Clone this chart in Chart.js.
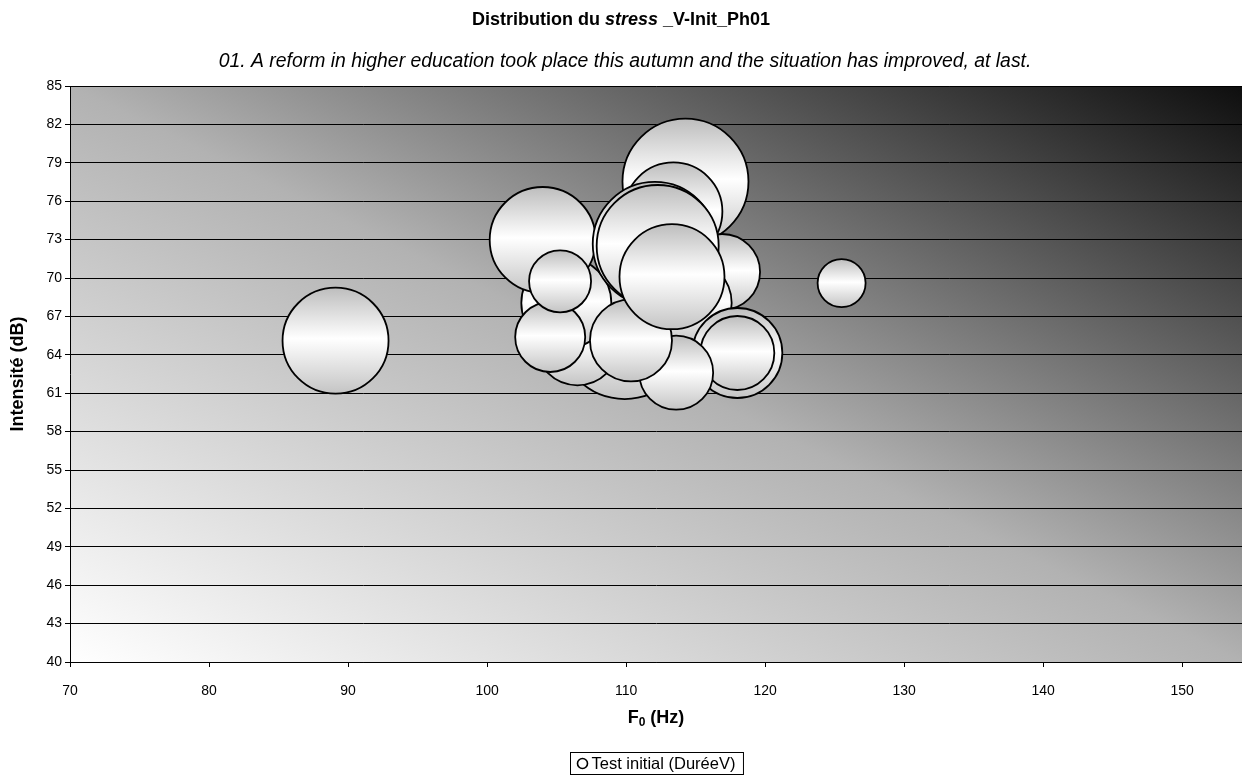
<!DOCTYPE html>
<html><head><meta charset="utf-8">
<style>html,body{margin:0;padding:0;background:#fff}#wrap{width:1242px;height:776px}</style>
<script src="https://cdn.jsdelivr.net/npm/chart.js@4/dist/chart.umd.min.js"></script>
</head><body><div id="wrap"><canvas id="c" width="1242" height="776"></canvas></div>
<script>
const FONT = '"Liberation Sans", Arial, sans-serif';
const titleParts = [['Distribution du ', 'bold'], ['stress', 'italic bold'], [' _V-Init_Ph01', 'bold']];
const subtitle = '01. A reform in higher education took place this autumn and the situation has improved, at last.';
const yTitle = 'Intensité (dB)';
const xTitleMain = 'F';
const xTitleSub = '0';
const xTitleRest = ' (Hz)';
const seriesName = 'Test initial (DuréeV)';

// F0 (Hz), intensity (dB) and bubble size (radius, px) per point
const f0Values = [89.1, 125.5, 109.9, 106.5, 105.7, 104.0, 104.54, 105.25, 114.27, 116.9, 113.4, 112.06, 112.27, 114.5, 118.0, 118.0, 113.6, 110.35, 113.3];
const intensityValues = [65.1, 69.6, 65.7, 64.9, 68.05, 72.97, 65.39, 69.74, 77.53, 70.47, 75.2, 72.66, 72.5, 68.05, 64.14, 64.14, 62.6, 65.12, 70.1];
const sizeValues = [53, 24, 66, 42, 45, 53, 35, 31, 63, 38, 49, 62, 61, 43, 45, 37, 37, 41, 52.5];

const xMin = 70, xMax = 154.3, xStep = 10;
const yMin = 40, yMax = 85, yStep = 3;

const points = f0Values.map((x, i) => ({x: x, y: intensityValues[i], r: sizeValues[i]}));

function bubbleFill(ctx) {
  if (ctx.type !== 'data') return '#ffffff';
  const chart = ctx.chart;
  const ys = chart.scales && chart.scales.y;
  if (!ys) return '#ffffff';
  const p = points[ctx.dataIndex];
  const cy = ys.getPixelForValue(p.y);
  if (!isFinite(cy)) return '#ffffff';
  const g = chart.ctx.createLinearGradient(0, cy - p.r, 0, cy + p.r);
  g.addColorStop(0, '#bdbdbd');
  g.addColorStop(0.48, '#ffffff');
  g.addColorStop(1, '#c4c4c4');
  return g;
}

const bgPlugin = {
  id: 'bg',
  beforeDraw(chart) {
    const c = chart.ctx, a = chart.chartArea;
    c.save();
    c.fillStyle = '#fff';
    c.fillRect(0, 0, chart.width, chart.height);
    c.translate(a.left, a.top);
    c.scale(a.right - a.left, a.bottom - a.top);
    const g = c.createLinearGradient(0, 1, 1, 0);
    g.addColorStop(0, '#ffffff');
    g.addColorStop(0.5, '#b2b2b2');
    g.addColorStop(1, '#0e0e0e');
    c.fillStyle = g;
    c.fillRect(0, 0, 1, 1);
    c.restore();
  }
};

const textPlugin = {
  id: 'texts',
  afterDraw(chart) {
    const c = chart.ctx, a = chart.chartArea;
    c.save();
    c.fillStyle = '#000';
    c.textBaseline = 'middle';
    let total = 0;
    titleParts.forEach(p => { c.font = p[1] + ' 18px ' + FONT; total += c.measureText(p[0]).width; });
    let x = 621 - total / 2;
    c.textAlign = 'left';
    titleParts.forEach(p => { c.font = p[1] + ' 18px ' + FONT; c.fillText(p[0], x, 20); x += c.measureText(p[0]).width; });
    c.font = 'italic 19.4px ' + FONT;
    c.textAlign = 'center';
    c.fillText(subtitle, 625, 62);
    const xc = (a.left + a.right) / 2;
    c.font = 'bold 18px ' + FONT;
    const w1 = c.measureText(xTitleMain).width;
    const w3 = c.measureText(xTitleRest).width;
    c.font = 'bold 12px ' + FONT;
    const w2 = c.measureText(xTitleSub).width;
    let sx = xc - (w1 + w2 + w3) / 2;
    c.textAlign = 'left';
    c.font = 'bold 18px ' + FONT;
    c.fillText(xTitleMain, sx, 718);
    c.font = 'bold 12px ' + FONT;
    c.fillText(xTitleSub, sx + w1, 723);
    c.font = 'bold 18px ' + FONT;
    c.fillText(xTitleRest, sx + w1 + w2, 718);
    c.save();
    c.translate(18, (a.top + a.bottom) / 2);
    c.rotate(-Math.PI / 2);
    c.textAlign = 'center';
    c.font = 'bold 18px ' + FONT;
    c.fillText(yTitle, 0, 0);
    c.restore();
    c.font = '16.5px ' + FONT;
    const tw = c.measureText(seriesName).width;
    const bw = tw + 29;
    const bx = Math.round(xc - bw / 2) + 0.5, by = 752.5, bh = 22;
    c.fillStyle = '#fff';
    c.fillRect(bx, by, bw, bh);
    c.strokeStyle = '#000';
    c.lineWidth = 1;
    c.strokeRect(bx, by, bw, bh);
    c.beginPath();
    c.arc(bx + 12, by + bh / 2, 5, 0, Math.PI * 2);
    c.fillStyle = '#fff';
    c.fill();
    c.lineWidth = 1.6;
    c.stroke();
    c.fillStyle = '#000';
    c.textAlign = 'left';
    c.fillText(seriesName, bx + 21, by + bh / 2 + 1);
    c.restore();
  }
};

new Chart(document.getElementById('c'), {
  type: 'bubble',
  data: {
    datasets: [{
      label: seriesName,
      data: points,
      backgroundColor: bubbleFill,
      borderColor: '#000',
      borderWidth: 1.8,
      hoverRadius: 0,
      clip: false
    }]
  },
  options: {
    responsive: false,
    animation: false,
    events: [],
    layout: {autoPadding: false, padding: {top: 86, left: 0, right: 0, bottom: 0}},
    plugins: {legend: {display: false}, tooltip: {enabled: false}, title: {display: false}},
    scales: {
      x: {
        type: 'linear', min: xMin, max: xMax,
        afterFit: s => { s.height = 114; },
        ticks: {stepSize: xStep, includeBounds: false, color: '#000', font: {family: FONT, size: 14}, padding: 16, maxRotation: 0},
        grid: {drawOnChartArea: false, color: '#000', tickLength: 5},
        border: {color: '#000', width: 1}
      },
      y: {
        type: 'linear', min: yMin, max: yMax,
        afterFit: s => { s.width = 70; },
        ticks: {stepSize: yStep, color: '#000', font: {family: FONT, size: 14}, padding: 3},
        grid: {color: '#000', tickLength: 5, lineWidth: 1},
        border: {color: '#000', width: 1}
      }
    }
  },
  plugins: [bgPlugin, textPlugin]
});
</script>
</body></html>
